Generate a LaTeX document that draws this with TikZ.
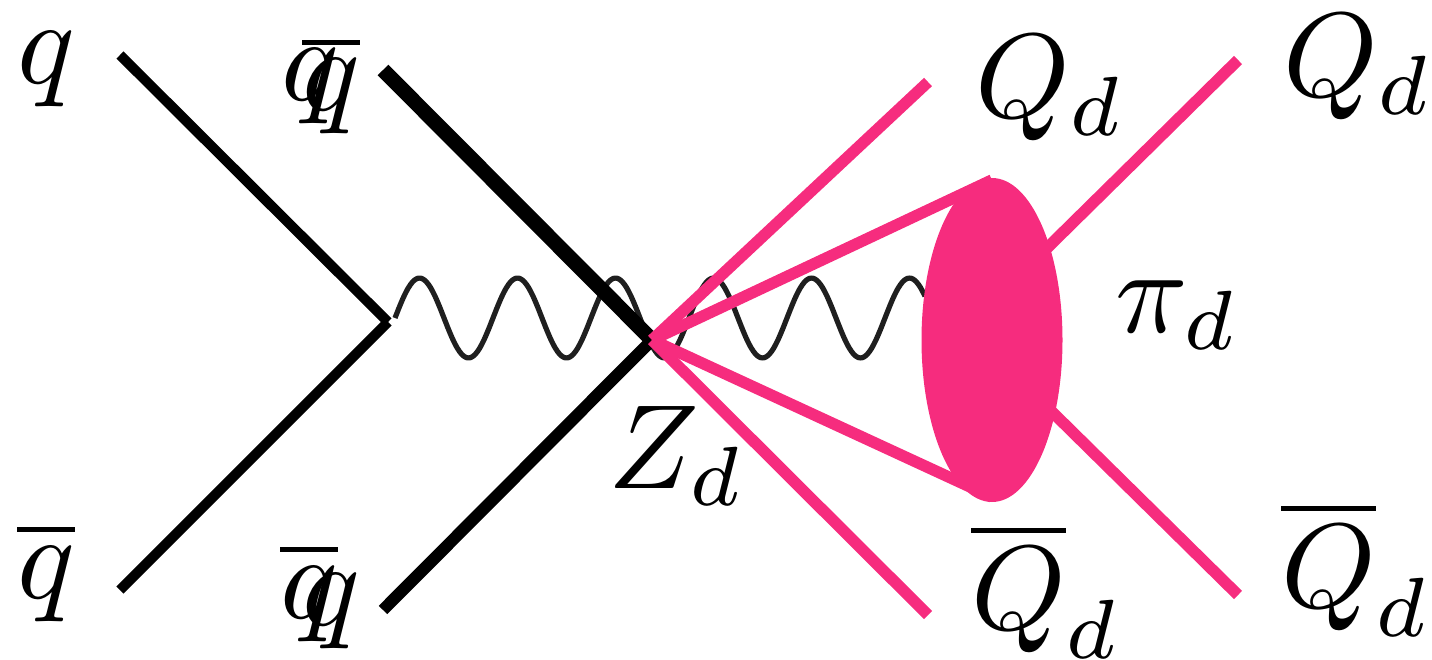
\documentclass[tikz,border=0pt]{standalone}
\usetikzlibrary{shapes.geometric}
\definecolor{hotp}{HTML}{F62C7E}
\tikzset{
  lab/.style={inner sep=0pt,outer sep=0pt,anchor=base west,scale=12},
  quark/.style={black,line width=#1},
  dark/.style={hotp,line width=11.5pt},
  wavy/.style={black,line width=5.2pt,opacity=.88},
}
\begin{document}
\begin{tikzpicture}[x=1pt,y=-1pt]
\useasboundingbox (0,0) rectangle (1432,660);
\coordinate (v1) at (388,322);
\coordinate (v2) at (652,340);
\coordinate (a1) at (120,55);
\coordinate (a2) at (120,590);
\coordinate (b1) at (383,70);
\coordinate (b2) at (383,610);
\coordinate (c1) at (928,82);
\coordinate (c2) at (928,615);
\coordinate (d1) at (992,180);
\coordinate (d2) at (992,497);
\coordinate (e1) at (1238,60);
\coordinate (e2) at (1238,595);
\coordinate (s1) at (1040,255);
\coordinate (s2) at (1040,400);
% wave
\draw[wavy,line join=round]
  plot[smooth,samples=120,domain=395:925] (\x,{318-40*sin((\x-395)/98*360)});
\draw[quark=10pt] (a1) -- (v1);
\draw[quark=10pt] (a2) -- (v1);
\draw[quark=15pt] (b1) -- (v2);
\draw[quark=12pt] (b2) -- (v2);
\draw[dark] (v2) -- (c1);
\draw[dark] (v2) -- (c2);
\draw[dark] (v2) -- (d1);
\draw[dark] (v2) -- (d2);
\draw[dark] (s1) -- (e1);
\draw[dark] (s2) -- (e2);
\node[ellipse,fill=hotp,minimum width=141pt,minimum height=324pt,inner sep=0pt] (blob) at (992,340) {};
% labels
\node[lab] (q1) at (17,84) {$q$};
\node[lab] (q2) at (17,598) {$\overline{q}$};
\node[lab] (q3) at (281,101) {$q$};
\node[lab] (q4) at (302,111) {$\overline{q}$};
\node[lab] (q5) at (280,618) {$\overline{q}$};
\node[lab] (q6) at (302,625) {$q$};
\node[lab] (Q1) at (975,118) {$Q_d$};
\node[lab] (Q2) at (1283,97) {$Q_d$};
\node[lab] (Q3) at (971,629) {$\overline{Q}_d$};
\node[lab] (Q4) at (1281,607) {$\overline{Q}_d$};
\node[lab] (Z) at (608,488) {$Z_d$};
\node[lab] (P) at (1115,332) {$\pi_d$};
\end{tikzpicture}
\end{document}
